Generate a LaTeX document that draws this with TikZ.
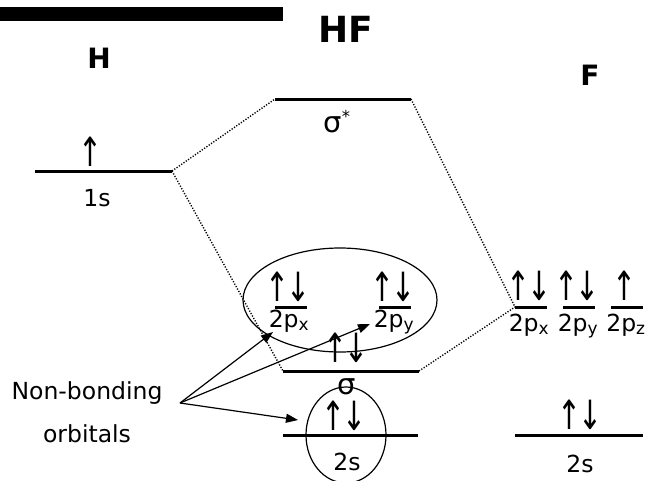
\documentclass[tikz,border=0pt]{standalone}
\usepackage{fontspec}
\setmainfont{DejaVu Sans}
\usetikzlibrary{positioning,arrows.meta}

\tikzset{every picture/.style={line width=0.75pt}}
\tikzset{
  orbital/.style={line width=3pt},
  corr/.style={line width=1.4pt, dash pattern=on 1.2pt off 1.6pt},
  spin/.style={inner sep=0pt, font=\fontsize{26}{28}\selectfont},
  lbl/.style={inner sep=0pt, anchor=base, font=\fontsize{23.5}{26}\selectfont},
  atom/.style={inner sep=0pt, anchor=base, font=\bfseries\fontsize{28}{30}\selectfont},
  nbpointer/.style={line width=1.2pt, -{Triangle[length=12pt,width=9pt]}},
  lobe/.style={line width=1.2pt}
}
% tall thin spin arrows
\newcommand{\up}{\scalebox{1.1}[1.55]{↑}}
\newcommand{\ud}{\scalebox{1.1}[1.55]{↑\kern-2pt↓}}
\newcommand{\sub}[1]{\textsubscript{\fontsize{17}{18}\selectfont #1}}
\newcommand{\sig}{{\fontsize{29}{31}\selectfont σ}}

\begin{document}
\begin{tikzpicture}[x=1pt,y=1pt,yscale=-1,xscale=1]
\path[use as bounding box] (0,0) rectangle (648,480);

%Title bar
\fill (0,7) rectangle (283,21);

%Levels: H
\coordinate (h1s-w) at (35,171);  \coordinate (h1s-e) at (172,171);
%Levels: HF
\coordinate (ss-w) at (275,99);   \coordinate (ss-e) at (411,99);
\coordinate (sg-w) at (283,371);  \coordinate (sg-e) at (419,371);
\coordinate (hpx-w) at (275,307); \coordinate (hpx-e) at (307,307);
\coordinate (hpy-w) at (379,307); \coordinate (hpy-e) at (411,307);
\coordinate (h2s-w) at (283,435); \coordinate (h2s-e) at (418,435);
%Levels: F
\coordinate (fpx-w) at (515,307); \coordinate (fpx-e) at (547,307);
\coordinate (fpy-w) at (563,307); \coordinate (fpy-e) at (595,307);
\coordinate (fpz-w) at (611,307); \coordinate (fpz-e) at (643,307);
\coordinate (f2s-w) at (515,435); \coordinate (f2s-e) at (643,435);

\foreach \o in {h1s,ss,sg,hpx,hpy,h2s,fpx,fpy,fpz,f2s}
  \draw[orbital] (\o-w) -- (\o-e);

%Correlation lines
\draw[corr] (h1s-e) -- (ss-w);
\draw[corr] (h1s-e) -- (sg-w);
\draw[corr] (ss-e) -- (fpx-w);
\draw[corr] (sg-e) -- (fpx-w);

%Lone pair regions
\draw[lobe] (340,300) ellipse [x radius=97, y radius=52];
\draw[lobe] (346,435) ellipse [x radius=40, y radius=48];

%Electrons
\node[spin] (e-h1s) at (90,152) {\up};
\node[spin] (e-hpx) at (288,287) {\ud};
\node[spin] (e-hpy) at (393,287) {\ud};
\node[spin] (e-sg) at (346,348) {\ud};
\node[spin] (e-h2s) at (344,416) {\ud};
\node[spin] (e-fpx) at (529,286) {\ud};
\node[spin] (e-fpy) at (577,286) {\ud};
\node[spin] (e-fpz) at (624,286) {\up};
\node[spin] (e-f2s) at (580,415) {\ud};

% Text Node
\node[atom] (tH) at (99,68) {H};
\node[atom, font=\bfseries\fontsize{36}{38}\selectfont] (tHF) at (346,42) {HF};
\node[atom] (tF) at (590,85) {F};
% Text Node
\node[lbl] (l1s) at (97,206) {1s};
\node[lbl] (lss) at (337,132) {\sig\textsuperscript{*}};
\node[lbl] (lsg) at (347,394) {\sig};
\node[lbl] (lhpx) at (289,327) {2p\sub{x}};
\node[lbl] (lhpy) at (394,327) {2p\sub{y}};
\node[lbl] (lh2s) at (347,470) {2s};
\node[lbl] (lfpx) at (529,331) {2p\sub{x}};
\node[lbl] (lfpy) at (578,331) {2p\sub{y}};
\node[lbl] (lfpz) at (626,331) {2p\sub{z}};
\node[lbl] (lf2s) at (580,472) {2s};
\node[lbl] (nb1) at (87,399) {Non-bonding};
\node[lbl] (nb2) at (87,442) {orbitals};

%Pointers to the non-bonding levels
\coordinate (src) at (180,403);
\coordinate (to-hpx) at (273,332);
\coordinate (to-hpy) at (370,324);
\coordinate (to-h2s) at (298,420);
\foreach \t in {to-hpx,to-hpy,to-h2s}
  \draw[nbpointer] (src) -- (\t);

\end{tikzpicture}
\end{document}
